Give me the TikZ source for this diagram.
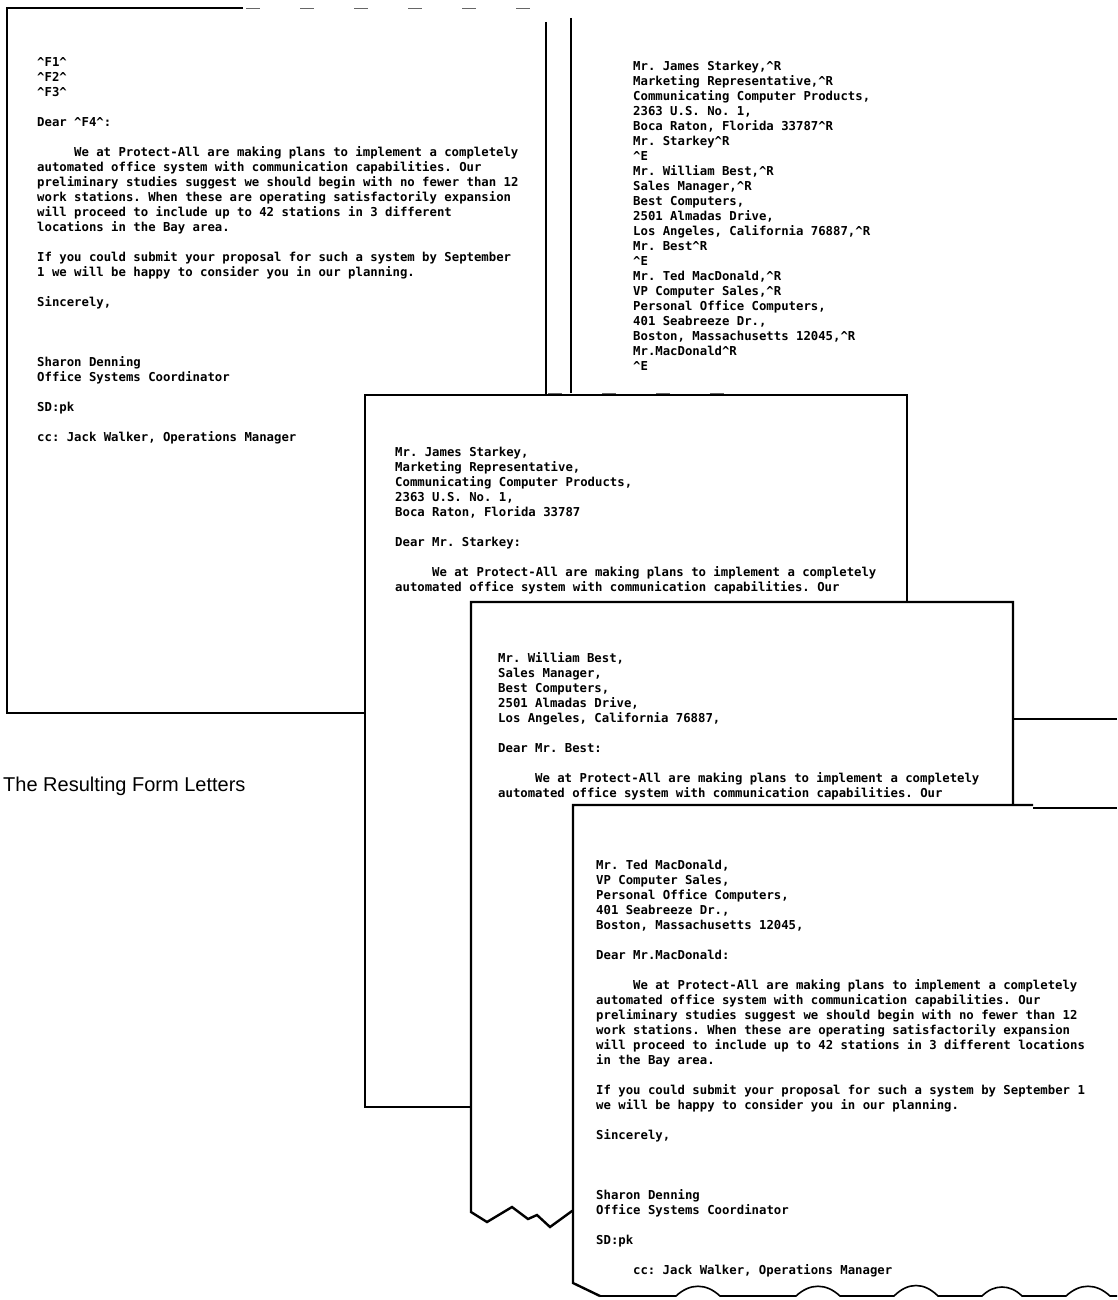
\documentclass[tikz,border=0pt]{standalone}
\usepackage{fontspec}
\newfontfamily\typefont{DejaVu Sans Mono}
\newfontfamily\captionfont{Liberation Sans}
\newcommand{\ctl}{\textasciicircum}
\newcommand{\tabin}{\hspace*{3em}}
\begin{document}
\begin{tikzpicture}[x=1pt, y=-1pt,
  every node/.style={align=left, anchor=north west, inner sep=0pt,
    font=\typefont\bfseries\fontsize{12.3}{15}\selectfont\frenchspacing},
  sheet/.style={draw=black, line width=2.4pt, fill=white},
  edge/.style={line width=2.4pt},
  faint/.style={line width=0.8pt, black!60, dash pattern=on 14pt off 40pt}]
  % Scanned page, cropped
  \clip (0,0) rectangle (1117,1300);
  \fill[white] (0,0) rectangle (1117,1300);

  % Template letter and the address file behind the merged letters
  \draw[edge] (243,8) -- (7,8) -- (7,713) -- (372,713);
  \draw[faint] (246,8) -- (535,8);
  \draw[edge] (546,22) -- (546,400);
  \draw[edge] (571,18) -- (571,393);
  \draw[faint] (548,393) -- (730,393);
  \draw[line width=1.2pt] (900,719) -- (1117,719);

  \node (tmpl) at (37,57) {\ctl F1\ctl\\
\ctl F2\ctl\\
\ctl F3\ctl\\[15pt]
Dear \ctl F4\ctl:\\[15pt]
\tabin We at Protect-All are making plans to implement a completely\\
automated office system with communication capabilities. Our\\
preliminary studies suggest we should begin with no fewer than 12\\
work stations. When these are operating satisfactorily expansion\\
will proceed to include up to 42 stations in 3 different\\
locations in the Bay area.\\[15pt]
If you could submit your proposal for such a system by September\\
1 we will be happy to consider you in our planning.\\[15pt]
Sincerely,\\[45pt]
Sharon Denning\\
Office Systems Coordinator\\[15pt]
SD:pk\\[15pt]
cc: Jack Walker, Operations Manager};

  \node (addr) at (633,61) {Mr. James Starkey,\ctl R\\
Marketing Representative,\ctl R\\
Communicating Computer Products,\\
2363 U.S. No. 1,\\
Boca Raton, Florida 33787\ctl R\\
Mr. Starkey\ctl R\\
\ctl E\\
Mr. William Best,\ctl R\\
Sales Manager,\ctl R\\
Best Computers,\\
2501 Almadas Drive,\\
Los Angeles, California 76887,\ctl R\\
Mr. Best\ctl R\\
\ctl E\\
Mr. Ted MacDonald,\ctl R\\
VP Computer Sales,\ctl R\\
Personal Office Computers,\\
401 Seabreeze Dr.,\\
Boston, Massachusetts 12045,\ctl R\\
Mr.MacDonald\ctl R\\
\ctl E};

  % Merged letters, stacked
  \filldraw[sheet] (365,395) rectangle (907,1107);
  \node (starkey) at (395,447) {Mr. James Starkey,\\
Marketing Representative,\\
Communicating Computer Products,\\
2363 U.S. No. 1,\\
Boca Raton, Florida 33787\\[15pt]
Dear Mr. Starkey:\\[15pt]
\tabin We at Protect-All are making plans to implement a completely\\
automated office system with communication capabilities. Our};

  \filldraw[sheet] (471,1212) -- (471,602) -- (1013,602) -- (1013,1215) -- (572,1211)
    -- (550,1227) -- (537,1215) -- (528,1219) -- (512,1207) -- (487,1222) -- cycle;
  \node (best) at (498,652) {Mr. William Best,\\
Sales Manager,\\
Best Computers,\\
2501 Almadas Drive,\\
Los Angeles, California 76887,\\[15pt]
Dear Mr. Best:\\[15pt]
\tabin We at Protect-All are making plans to implement a completely\\
automated office system with communication capabilities. Our};

  \fill[white] (573,805) rectangle (1120,1300);
  \draw[edge] (1033,805) -- (573,805) -- (573,1283) -- (600,1296);
  \draw[line width=1.2pt] (1033,808) -- (1117,808);
  \draw[line width=1.6pt] (600,1296) -- (676,1296) .. controls (690,1283) and (706,1283) .. (720,1296)
    -- (796,1296) .. controls (810,1283) and (826,1283) .. (840,1296)
    -- (894,1296) .. controls (908,1282) and (924,1282) .. (938,1296)
    -- (982,1296) .. controls (994,1284) and (1010,1284) .. (1022,1296)
    -- (1066,1296) .. controls (1080,1283) and (1096,1283) .. (1110,1296) -- (1117,1296);
  \node (macdonald) at (596,860) {Mr. Ted MacDonald,\\
VP Computer Sales,\\
Personal Office Computers,\\
401 Seabreeze Dr.,\\
Boston, Massachusetts 12045,\\[15pt]
Dear Mr.MacDonald:\\[15pt]
\tabin We at Protect-All are making plans to implement a completely\\
automated office system with communication capabilities. Our\\
preliminary studies suggest we should begin with no fewer than 12\\
work stations. When these are operating satisfactorily expansion\\
will proceed to include up to 42 stations in 3 different locations\\
in the Bay area.\\[15pt]
If you could submit your proposal for such a system by September 1\\
we will be happy to consider you in our planning.\\[15pt]
Sincerely,\\[45pt]
Sharon Denning\\
Office Systems Coordinator\\[15pt]
SD:pk\\[15pt]
\tabin cc: Jack Walker, Operations Manager};

  \node[anchor=base west, font=\captionfont\fontsize{20}{24}\selectfont] (caption) at (3,791) {The Resulting Form Letters};
\end{tikzpicture}
\end{document}
